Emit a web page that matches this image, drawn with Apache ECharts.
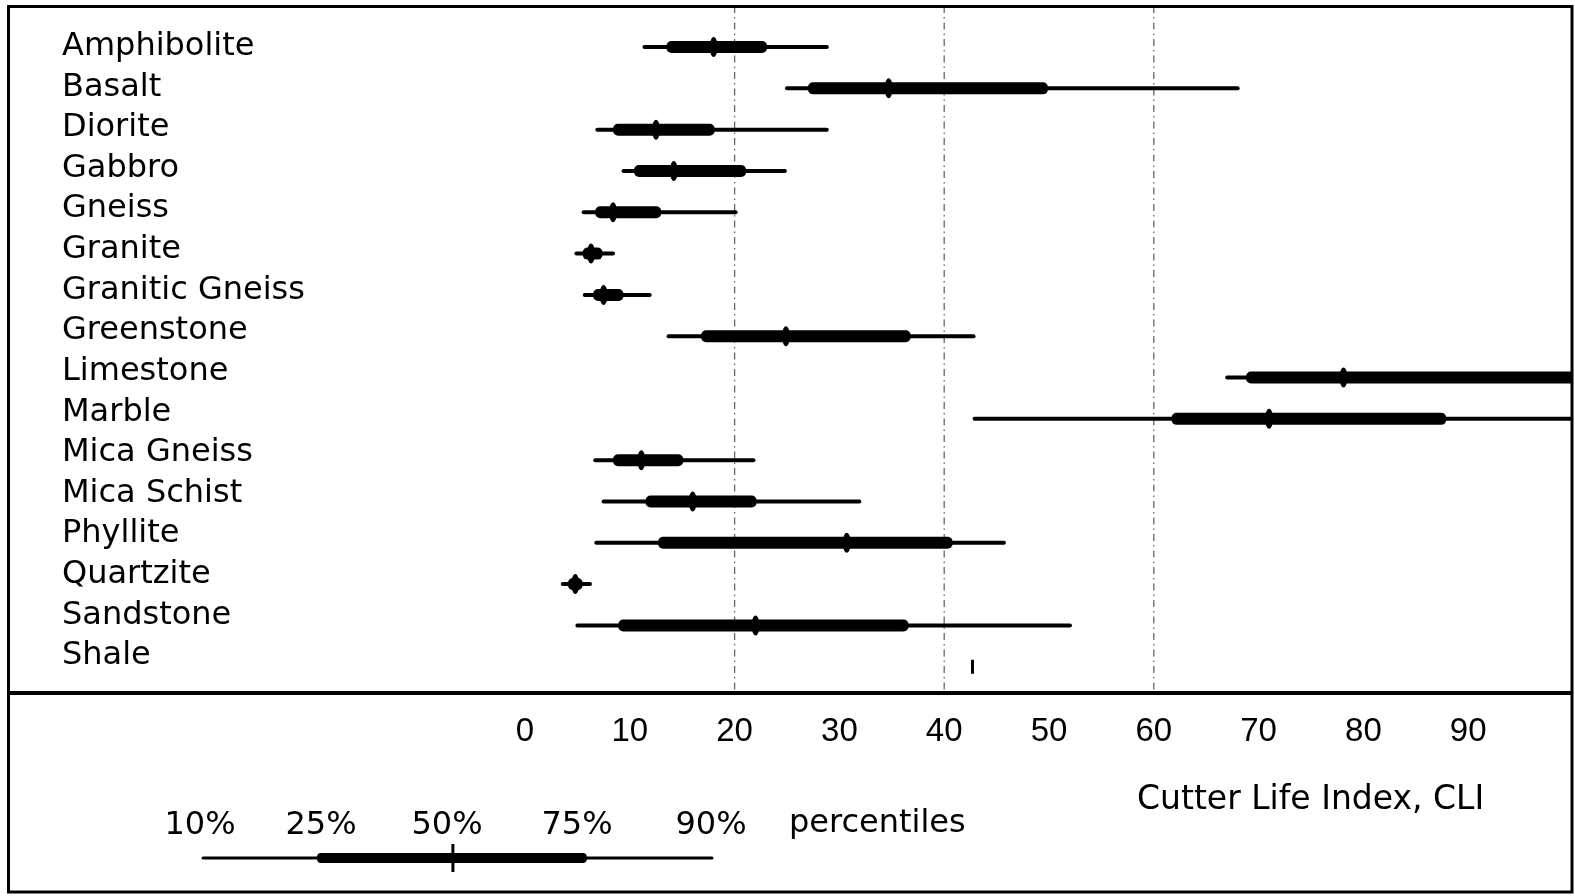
<!DOCTYPE html>
<html>
<head>
<meta charset="utf-8">
<script src="https://cdn.jsdelivr.net/npm/echarts@6/dist/echarts.min.js"></script>
<style>
html,body{margin:0;padding:0;background:#fff;}
#chart{width:1575px;height:896px;}
</style>
</head>
<body>
<div id="chart"></div>
<script>
// ---- data ----
const rockTypes = ['Amphibolite','Basalt','Diorite','Gabbro','Gneiss','Granite','Granitic Gneiss','Greenstone','Limestone','Marble','Mica Gneiss','Mica Schist','Phyllite','Quartzite','Sandstone','Shale'];
const p10 = [11.4, 25.0, 6.9, 9.4, 5.6, 4.9, 5.7, 13.7, 67.0, 42.9, 6.7, 7.5, 6.8, 3.6, 5.0, 42.7];
const p25 = [13.5, 27.0, 8.4, 10.4, 6.7, 5.5, 6.5, 16.8, 68.8, 61.7, 8.4, 11.5, 12.7, 4.1, 8.9, 42.7];
const p50 = [18.0, 34.7, 12.5, 14.2, 8.4, 6.3, 7.5, 24.9, 78.1, 71.0, 11.1, 16.0, 30.7, 4.8, 22.0, 42.7];
const p75 = [23.1, 49.9, 18.1, 21.1, 13.0, 7.4, 9.4, 36.8, 110, 87.9, 15.1, 22.1, 40.8, 5.5, 36.6, 42.7];
const p90 = [28.8, 68.0, 28.8, 24.8, 20.1, 8.4, 11.9, 42.8, 120, 105, 21.8, 31.9, 45.7, 6.2, 52.0, 42.7];
const xTicks = [0, 10, 20, 30, 40, 50, 60, 70, 80, 90];
const refLines = [20, 40, 60];
const legendLabels = ['10%', '25%', '50%', '75%', '90%'];
const legendSample = [0, 22.4, 49.1, 75.4, 100];
const axisTitle = 'Cutter Life Index, CLI';
const legendTitle = 'percentiles';

const rows = rockTypes.map((n, i) => [i, p10[i], p25[i], p50[i], p75[i], p90[i]]);

function drawBox(params, api, medianThin) {
  const y = api.value(0);
  const v = [1,2,3,4,5].map(k => api.value(k));
  const c = v.map(x => api.coord([x, y]));
  const cy = c[0][1];
  const ch = [];
  if (v[0] === v[4]) {
    ch.push({type:'rect', shape:{x:c[2][0]-1.5, y:cy-7, width:3, height:14}, style:{fill:'#000'}});
    return {type:'group', children:ch};
  }
  ch.push({type:'line', shape:{x1:c[0][0], y1:cy, x2:c[4][0], y2:cy}, style:{stroke:'#000', lineWidth:medianThin?3:4, lineCap:'round'}});
  ch.push({type:'rect', shape:{x:c[1][0], y:cy-(medianThin?5:6), width:c[3][0]-c[1][0], height:medianThin?10:12, r:medianThin?4:5}, style:{fill:'#000'}});
  if (medianThin) {
    ch.push({type:'rect', shape:{x:c[2][0]-1.5, y:cy-14, width:3, height:28}, style:{fill:'#000'}});
  } else {
    ch.push({type:'ellipse', shape:{cx:c[2][0], cy:cy, rx:4, ry:10}, style:{fill:'#000'}});
  }
  return {type:'group', children:ch};
}

const chart = echarts.init(document.getElementById('chart'), null, {renderer:'canvas'});
const font = 'DejaVu Sans';
const option = {
  animation: false,
  backgroundColor: '#fff',
  grid: [
    {left:525, width:1048, top:26.4, height:661},
    {left:525, width:1048, top:26.3, height:650},
    {left:525, width:1048, top:6, height:687},
    {left:203, width:509, top:845, height:26}
  ],
  xAxis: [
    {gridIndex:0, type:'value', min:0, max:100, interval:10, show:false},
    {gridIndex:1, type:'value', min:0, max:100, interval:10, show:false},
    {gridIndex:2, type:'value', min:0, max:100, interval:10,
      axisLine:{show:false}, axisTick:{show:false}, splitLine:{show:false},
      axisLabel:{show:true, margin:22, color:'#000', fontFamily:'Liberation Sans', fontSize:33,
        showMaxLabel:false,
        formatter: v => xTicks.indexOf(v) >= 0 ? String(v) : ''}},
    {gridIndex:3, type:'value', min:0, max:100, show:false}
  ],
  yAxis: [
    {gridIndex:0, type:'category', data:rockTypes, inverse:true, show:false},
    {gridIndex:1, type:'category', data:rockTypes, inverse:true,
      axisLine:{show:false}, axisTick:{show:false}, splitLine:{show:false},
      axisLabel:{show:true, align:'left', margin:463, color:'#000', fontFamily:font, fontSize:32, interval:0}},
    {gridIndex:2, type:'value', min:0, max:1, show:false},
    {gridIndex:3, type:'category', data:['sample'], show:false}
  ],
  series: [
    {
      type:'custom', xAxisIndex:2, yAxisIndex:2, z:1, silent:true,
      data: refLines.map(v => [v]),
      encode:{x:0},
      renderItem:(params, api) => {
        const x = api.coord([api.value(0), 0])[0];
        const cs = params.coordSys;
        return {type:'line', shape:{x1:x, y1:cs.y, x2:x, y2:cs.y+cs.height},
          style:{stroke:'#666', lineWidth:1.3, lineDash:[7,4,1.5,4]}};
      }
    },
    {
      type:'custom', xAxisIndex:0, yAxisIndex:0, z:3, clip:true, silent:true,
      data: rows,
      encode:{x:[1,2,3,4,5], y:0},
      renderItem:(params, api) => drawBox(params, api, false)
    },
    {
      type:'custom', xAxisIndex:3, yAxisIndex:3, z:3, silent:true,
      data: [[0].concat(legendSample)],
      encode:{x:[1,2,3,4,5], y:0},
      renderItem:(params, api) => drawBox(params, api, true)
    }
  ],
  graphic: [
    {type:'rect', shape:{x:8.5, y:6.5, width:1563.5, height:885.5}, style:{fill:null, stroke:'#000', lineWidth:3}, z:10},
    {type:'line', shape:{x1:8, y1:693, x2:1573, y2:693}, style:{stroke:'#000', lineWidth:4}, z:10},
    {type:'text', left:1137, top:784, style:{text:axisTitle, fontFamily:font, fontSize:33, fill:'#000'}},
    {type:'text', left:789, top:808, style:{text:legendTitle, fontFamily:font, fontSize:32, fill:'#000'}}
  ].concat(legendLabels.map((t, i) => ({
    type:'text', x:[200, 321, 447, 577, 711][i], y:826,
    style:{text:t, fontFamily:font, fontSize:32, fill:'#000', align:'center', verticalAlign:'middle'}
  })))
};
chart.setOption(option);
</script>
</body>
</html>
